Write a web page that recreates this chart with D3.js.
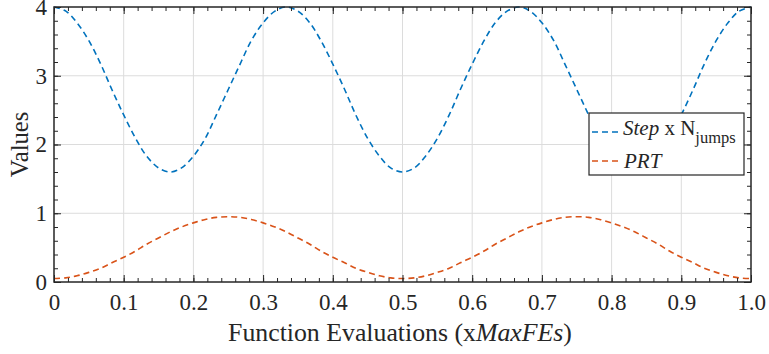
<!DOCTYPE html>
<html>
<head>
<meta charset="utf-8">
<script src="https://cdn.jsdelivr.net/npm/d3@7/dist/d3.min.js"></script>
<style>
  body { margin: 0; background: #fff; }
</style>
</head>
<body>
<svg id="chart" width="769" height="354"></svg>
<script>
// sample positions (fraction of MaxFEs), every 1/60
var fe_x = [0.000,0.017,0.033,0.050,0.067,0.083,0.100,0.117,0.133,0.150,
            0.167,0.183,0.200,0.217,0.233,0.250,0.267,0.283,0.300,0.317,
            0.333,0.350,0.367,0.383,0.400,0.417,0.433,0.450,0.467,0.483,
            0.500,0.517,0.533,0.550,0.567,0.583,0.600,0.617,0.633,0.650,
            0.667,0.683,0.700,0.717,0.733,0.750,0.767,0.783,0.800,0.817,
            0.833,0.850,0.867,0.883,0.900,0.917,0.933,0.950,0.967,0.983,1.000];

var step_jumps = [4.00,3.94,3.77,3.51,3.17,2.80,2.43,2.09,1.83,1.66,
                  1.60,1.66,1.83,2.09,2.43,2.80,3.17,3.51,3.77,3.94,
                  4.00,3.94,3.77,3.51,3.17,2.80,2.43,2.09,1.83,1.66,
                  1.60,1.66,1.83,2.09,2.43,2.80,3.17,3.51,3.77,3.94,
                  4.00,3.94,3.77,3.51,3.17,2.80,2.43,2.09,1.83,1.66,
                  1.60,1.66,1.83,2.09,2.43,2.80,3.17,3.51,3.77,3.94,4.00];

var prt = [0.05,0.06,0.09,0.14,0.20,0.28,0.36,0.45,0.55,0.64,
           0.73,0.80,0.86,0.91,0.94,0.95,0.94,0.91,0.86,0.80,
           0.73,0.64,0.55,0.45,0.36,0.28,0.20,0.14,0.09,0.06,
           0.05,0.06,0.09,0.14,0.20,0.28,0.36,0.45,0.55,0.64,
           0.73,0.80,0.86,0.91,0.94,0.95,0.94,0.91,0.86,0.80,
           0.73,0.64,0.55,0.45,0.36,0.28,0.20,0.14,0.09,0.06,0.05];

var x_ticks = [0, 0.1, 0.2, 0.3, 0.4, 0.5, 0.6, 0.7, 0.8, 0.9, 1.0];
var x_tick_labels = ["0","0.1","0.2","0.3","0.4","0.5","0.6","0.7","0.8","0.9","1.0"];
var y_ticks = [0, 1, 2, 3, 4];

var series_colors = {"step": "#0072BD", "prt": "#D95319"};
var serif = "'Liberation Serif', 'Times New Roman', Times, serif";

var margin = {left: 54, right: 18, top: 7, bottom: 72};
var W = 769, H = 354;
var pw = W - margin.left - margin.right, ph = H - margin.top - margin.bottom;

var svg = d3.select("#chart");
var g = svg.append("g").attr("transform", "translate(" + margin.left + "," + margin.top + ")");

var x = d3.scaleLinear().domain([0, 1]).range([0, pw]);
var y = d3.scaleLinear().domain([0, 4]).range([ph, 0]);

// grid
g.append("g").selectAll("line").data(x_ticks.slice(1, -1)).enter().append("line")
   .attr("x1", function(d) { return x(d); }).attr("x2", function(d) { return x(d); })
   .attr("y1", 0).attr("y2", ph)
   .attr("stroke", "#dcdcdc").attr("stroke-width", 1);
g.append("g").selectAll("line").data(y_ticks.slice(1, -1)).enter().append("line")
   .attr("y1", function(d) { return y(d); }).attr("y2", function(d) { return y(d); })
   .attr("x1", 0).attr("x2", pw)
   .attr("stroke", "#dcdcdc").attr("stroke-width", 1);

// lines
var rows = fe_x.map(function(d, i) { return {x: d, step: step_jumps[i], prt: prt[i]}; });
["step", "prt"].forEach(function(key) {
   g.append("path").datum(rows)
      .attr("fill", "none")
      .attr("stroke", series_colors[key])
      .attr("stroke-width", 1.6)
      .attr("stroke-dasharray", "6 4")
      .attr("d", d3.line().curve(d3.curveCatmullRom)
         .x(function(d) { return x(d.x); })
         .y(function(d) { return y(d[key]); }));
});

// axes, ticks inward on all four sides
var x_minor = d3.range(0, 51).map(function(i) { return i / 50; });
var y_minor = d3.range(0, 21).map(function(i) { return i / 5; });
var axes = [
   {gen: d3.axisBottom, t: "translate(0," + ph + ")", s: x, maj: x_ticks, min: x_minor, lbl: true, pad: 12},
   {gen: d3.axisTop, t: "translate(0,0)", s: x, maj: x_ticks, min: x_minor, lbl: false, pad: 8},
   {gen: d3.axisLeft, t: "translate(0,0)", s: y, maj: y_ticks, min: y_minor, lbl: true, pad: 7},
   {gen: d3.axisRight, t: "translate(" + pw + ",0)", s: y, maj: y_ticks, min: y_minor, lbl: false, pad: 8}
];
axes.forEach(function(a) {
   var gm = g.append("g").attr("transform", a.t)
      .call(a.gen(a.s).tickValues(a.min).tickSizeInner(-4).tickSizeOuter(0).tickFormat(""));
   gm.select(".domain").remove();
   var ga = g.append("g").attr("transform", a.t)
      .call(a.gen(a.s).tickValues(a.maj).tickSizeInner(-7).tickSizeOuter(0).tickPadding(a.pad)
         .tickFormat(a.lbl ? function(d, i) { return a.s === x ? x_tick_labels[i] : d; } : ""));
   ga.select(".domain").remove();
   ga.attr("font-family", serif).attr("font-size", 23);
   ga.selectAll("text").attr("fill", "#262626");
   gm.selectAll("line").attr("stroke", "#262626");
   ga.selectAll("line").attr("stroke", "#262626");
});
g.append("rect").attr("x", 0).attr("y", 0).attr("width", pw).attr("height", ph)
   .attr("fill", "none").attr("stroke", "#262626").attr("stroke-width", 1.5);

// axis titles
var xt = svg.append("text").attr("x", 400).attr("y", 341)
   .attr("text-anchor", "middle").attr("font-family", serif).attr("font-size", 25.8).attr("fill", "#262626");
xt.append("tspan").text("Function Evaluations (x");
xt.append("tspan").attr("font-style", "italic").text("MaxFEs");
xt.append("tspan").text(")");

svg.append("text").attr("transform", "translate(28," + (margin.top + ph / 2) + ") rotate(-90)")
   .attr("text-anchor", "middle").attr("font-family", serif).attr("font-size", 24.5)
   .attr("fill", "#262626").text("Values");

// legend
var leg = svg.append("g").attr("transform", "translate(589,113)")
   .attr("font-family", serif).attr("fill", "#262626");
leg.append("rect").attr("width", 155).attr("height", 62)
   .attr("fill", "#fff").attr("stroke", "#262626").attr("stroke-width", 1.2);
var leg_rows = [{key: "step", y: 19}, {key: "prt", y: 48}];
leg.selectAll("line.leg").data(leg_rows).enter().append("line").attr("class", "leg")
   .attr("x1", 3).attr("x2", 33)
   .attr("y1", function(d) { return d.y; }).attr("y2", function(d) { return d.y; })
   .attr("stroke", function(d) { return series_colors[d.key]; })
   .attr("stroke-width", 1.6).attr("stroke-dasharray", "6 4");
var t1 = leg.append("text").attr("x", 34).attr("y", 22).attr("font-size", 21);
t1.append("tspan").attr("font-style", "italic").text("Step");
t1.append("tspan").text(" x N");
t1.append("tspan").attr("dy", 8).attr("font-size", 16.5).text("jumps");
leg.append("text").attr("x", 35).attr("y", 55).attr("font-size", 21)
   .attr("font-style", "italic").text("PRT");
</script>
</body>
</html>
